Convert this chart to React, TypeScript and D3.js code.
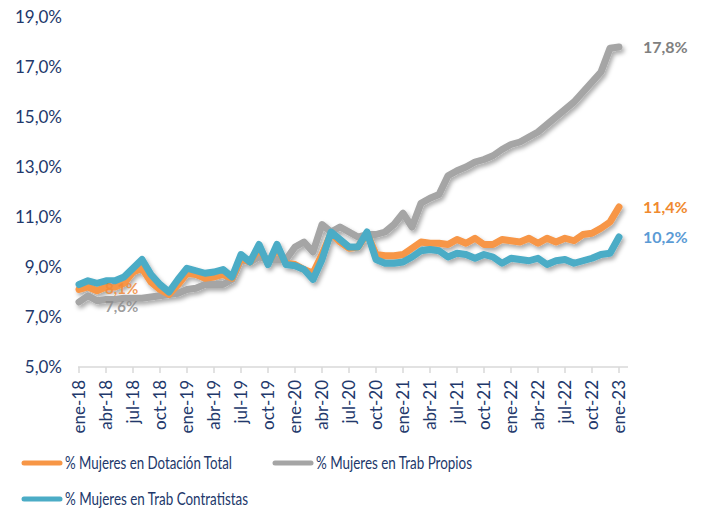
import React from "react";
import * as d3 from "d3";

const months = ["ene", "feb", "mar", "abr", "may", "jun", "jul", "ago", "sep", "oct", "nov", "dic"];
const years = ["18", "19", "20", "21", "22", "23"];
const categories: string[] = [];
for (let y = 0; y < years.length; y++) {
  for (let m = 0; m < 12; m++) {
    if (y === 5 && m > 0) break;
    categories.push(`${months[m]}-${years[y]}`);
  }
}

const dotacionTotal = [
  8.1, 8.2, 8.05, 8.2, 8.2, 8.35, 8.8, 8.95, 8.4, 8.1,
  7.9, 8.3, 8.75, 8.7, 8.55, 8.6, 8.7, 8.55, 9.35, 9.2,
  9.75, 9.15, 9.75, 9.15, 9.1, 8.9, 8.75, 9.5, 10.35, 10.0,
  9.75, 9.8, 10.35, 9.5, 9.45, 9.45, 9.5, 9.75, 10.0, 9.95,
  9.95, 9.9, 10.1, 9.95, 10.15, 9.9, 9.9, 10.1, 10.05, 10.0,
  10.15, 9.95, 10.15, 10.0, 10.15, 10.05, 10.3, 10.35, 10.55, 10.8,
  11.4,
];

const trabPropios = [
  7.6, 7.85, 7.65, 7.7, 7.7, 7.75, 7.75, 7.75, 7.8, 7.85,
  7.9, 7.95, 8.1, 8.15, 8.3, 8.3, 8.3, 8.5, 9.3, 9.2,
  9.4, 9.3, 9.3, 9.3, 9.8, 10.0, 9.6, 10.7, 10.4, 10.6,
  10.4, 10.2, 10.3, 10.3, 10.4, 10.7, 11.15, 10.6, 11.55, 11.75,
  11.9, 12.65, 12.85, 13.0, 13.2, 13.3, 13.45, 13.7, 13.9, 14.0,
  14.2, 14.4, 14.7, 15.0, 15.3, 15.6, 16.0, 16.4, 16.8, 17.75,
  17.8,
];

const trabContratistas = [
  8.3, 8.45, 8.35, 8.45, 8.45, 8.6, 8.95, 9.3, 8.7, 8.3,
  8.0, 8.5, 8.95, 8.85, 8.75, 8.8, 8.9, 8.6, 9.5, 9.2,
  9.9, 9.1, 9.9, 9.1, 9.05, 8.9, 8.5, 9.3, 10.4, 10.1,
  9.8, 9.8, 10.4, 9.3, 9.15, 9.15, 9.2, 9.4, 9.65, 9.7,
  9.65, 9.4, 9.55, 9.5, 9.35, 9.5, 9.4, 9.15, 9.35, 9.3,
  9.25, 9.35, 9.1, 9.25, 9.3, 9.15, 9.25, 9.35, 9.5, 9.55,
  10.2,
];

const yTicks = [5, 7, 9, 11, 13, 15, 17, 19];

const seriesNames = [
  "% Mujeres en Dotación Total",
  "% Mujeres en Trab Propios",
  "% Mujeres en Trab Contratistas",
];

const COLORS = { orange: "#F79646", gray: "#A5A5A5", teal: "#4BACC6" };
const NAVY = "#22386B";
const FONT = "Lato, 'Open Sans', sans-serif";

const fmt = (v: number) => v.toFixed(1).replace(".", ",") + "%";

export default function App() {
  const W = 706;
  const H = 508;
  const x = d3.scaleLinear().domain([0, categories.length - 1]).range([79, 619]);
  const y = d3.scaleLinear().domain([5, 19]).range([367, 17]);
  const line = d3
    .line<number>()
    .x((_, i) => x(i))
    .y((d) => y(d));

  const tickIdx = categories.map((_, i) => i).filter((i) => i % 3 === 0);
  const last = categories.length - 1;

  const series = [
    { data: trabPropios, color: COLORS.gray },
    { data: dotacionTotal, color: COLORS.orange },
    { data: trabContratistas, color: COLORS.teal },
  ];

  return (
    <svg width={W} height={H} style={{ position: "absolute", left: 0, top: 0, background: "#fff" }} fontFamily={FONT}>
      <defs>
        <filter id="shadow" x="-10%" y="-10%" width="120%" height="130%">
          <feDropShadow dx="2" dy="3" stdDeviation="2.2" floodColor="#000" floodOpacity="0.33" />
        </filter>
      </defs>

      {yTicks.map((t) => (
        <text key={t} x={62} y={y(t)} dy="0.35em" textAnchor="end" fontSize={17} fill={NAVY}>
          {fmt(t)}
        </text>
      ))}

      <line x1={78} x2={628} y1={y(5)} y2={y(5)} stroke="#D9D9D9" strokeWidth={1.5} />
      {tickIdx.map((i) => (
        <g key={i}>
          <line x1={x(i)} x2={x(i)} y1={y(5)} y2={y(5) + 6} stroke="#D9D9D9" strokeWidth={1.5} />
          <text
            transform={`translate(${x(i)},${y(5) + 13}) rotate(-90)`}
            textAnchor="end"
            dy="0.35em"
            fontSize={17}
            fill={NAVY}
          >
            {categories[i]}
          </text>
        </g>
      ))}

      <g filter="url(#shadow)">
        {series.map((s, k) => (
          <path
            key={k}
            d={line(s.data) || ""}
            fill="none"
            stroke={s.color}
            strokeWidth={7}
            strokeLinejoin="round"
            strokeLinecap="round"
          />
        ))}
      </g>

      <text x={105} y={y(dotacionTotal[0]) - 1} dy="0.35em" fontSize={15} fontWeight="bold" fill="#F08A3A" fillOpacity={0.85}>
        {fmt(dotacionTotal[0])}
      </text>
      <text x={105} y={y(trabPropios[0]) + 5} dy="0.35em" fontSize={15} fontWeight="bold" fill="#8C8C8C" fillOpacity={0.85}>
        {fmt(trabPropios[0])}
      </text>

      <text x={643} y={y(trabPropios[last])} dy="0.35em" fontSize={16} fontWeight="bold" fill="#808080">
        {fmt(trabPropios[last])}
      </text>
      <text x={643} y={y(dotacionTotal[last])} dy="0.35em" fontSize={16} fontWeight="bold" fill="#F08A30">
        {fmt(dotacionTotal[last])}
      </text>
      <text x={643} y={y(trabContratistas[last])} dy="0.35em" fontSize={16} fontWeight="bold" fill="#5B9BD5">
        {fmt(trabContratistas[last])}
      </text>

      {[
        { name: seriesNames[0], color: COLORS.orange, lx: 22, ly: 463, w: 167 },
        { name: seriesNames[1], color: COLORS.gray, lx: 273, ly: 463, w: 156 },
        { name: seriesNames[2], color: COLORS.teal, lx: 22, ly: 499, w: 183 },
      ].map((l) => (
        <g key={l.name}>
          <line x1={l.lx + 2} x2={l.lx + 38} y1={l.ly} y2={l.ly} stroke={l.color} strokeWidth={5} strokeLinecap="round" />
          <text
            x={l.lx + 43}
            y={l.ly}
            dy="0.35em"
            fontSize={17}
            fill={NAVY}
            textLength={l.w}
            lengthAdjust="spacingAndGlyphs"
          >
            {l.name}
          </text>
        </g>
      ))}
    </svg>
  );
}
